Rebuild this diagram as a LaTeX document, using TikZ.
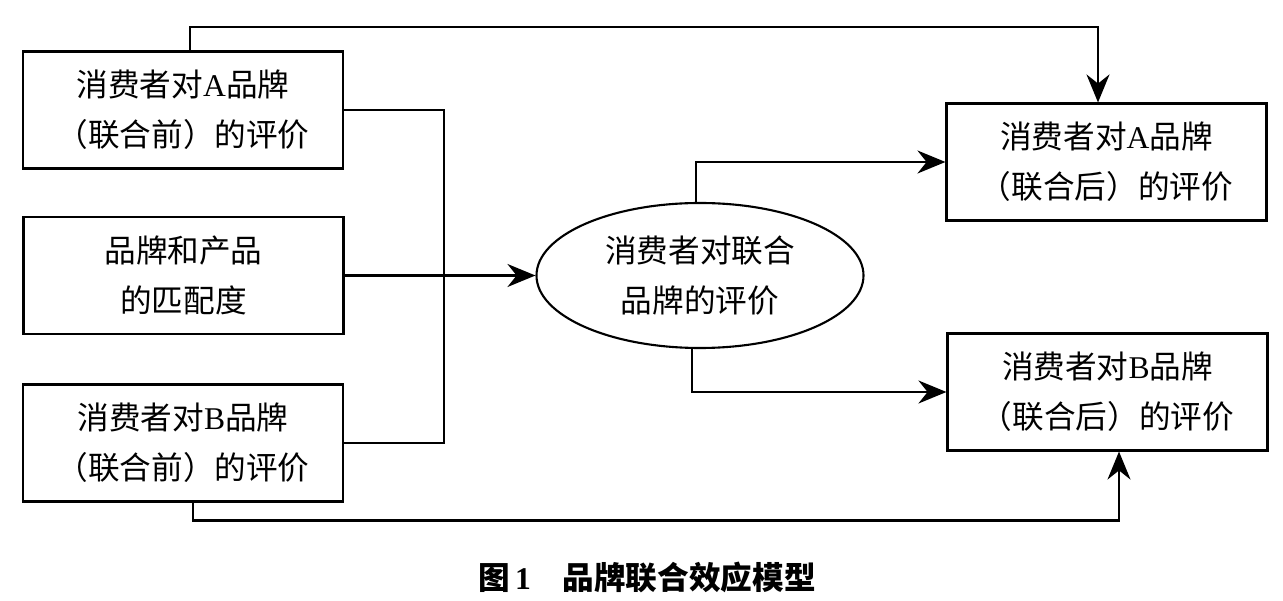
\documentclass[tikz,border=0pt]{standalone}
\usepackage{fontspec}
\setmainfont{Liberation Serif}
\newfontfamily\cjk{Noto Sans CJK SC}
\usetikzlibrary{arrows.meta,shapes.geometric}

\begin{document}
\begin{tikzpicture}[
        line width=1.2pt,
        box/.style={draw, rectangle, minimum width=6.4cm, minimum height=2.34cm,
            align=center, font=\cjk\fontsize{18}{28.5}\selectfont},
        ellbox/.style={draw, ellipse, minimum width=6.54cm, minimum height=2.9cm,
            inner sep=0pt, align=center, font=\cjk\fontsize{18}{28.5}\selectfont},
        arr/.style={-{Stealth[length=5.6mm, width=4.6mm]}}
    ]
        \useasboundingbox (0,0) rectangle (25.66,-12.02);

        \node [box] (preA) at (3.66,-2.2) {消费者对\textrm{A}品牌\\（联合前）的评价};
        \node [box] (fit) at (3.67,-5.51) {品牌和产品\\的匹配度};
        \node [box] (preB) at (3.66,-8.86) {消费者对\textrm{B}品牌\\（联合前）的评价};
        \node [ellbox] (joint) at (14.0,-5.51) {消费者对联合\\品牌的评价};
        \node [box] (postA) at (22.13,-3.24) {消费者对\textrm{A}品牌\\（联合后）的评价};
        \node [box] (postB) at (22.15,-7.84) {消费者对\textrm{B}品牌\\（联合后）的评价};

        \draw
            (preA.east) -- ++(2,0) |- (preB.east)
            ;
        \draw [arr] (fit.east) -- (joint.west);
        \draw [arr] ([xshift=-0.08cm]joint.north) |- (postA.west);
        \draw [arr] ([xshift=-0.16cm]joint.south) |- (postB.west);

        \draw [arr] ([xshift=0.14cm]preA.north) -- ++(0,0.46)
            -| ([xshift=-0.17cm]postA.north);
        \draw [arr] ([xshift=0.2cm]preB.south) -- ++(0,-0.36)
            -| ([xshift=0.23cm]postB.south);

        \node (caption) at (12.94,-11.54)
            {\cjk\bfseries\fontsize{18}{20}\selectfont 图\,\textrm{1}\quad 品牌联合效应模型};
    \end{tikzpicture}
\end{document}
